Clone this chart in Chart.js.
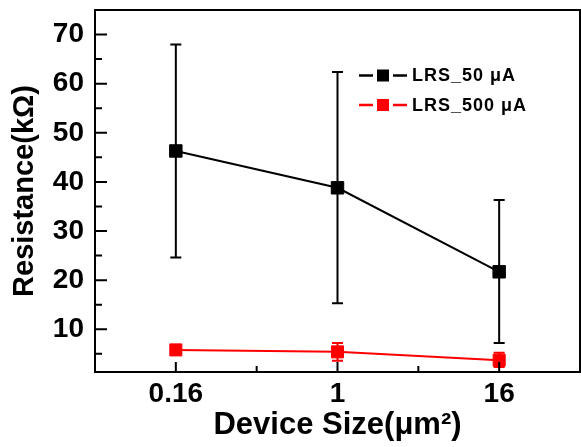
<!DOCTYPE html>
<html>
<head>
<meta charset="utf-8">
<script src="https://cdn.jsdelivr.net/npm/chart.js@4.4.0/dist/chart.umd.min.js"></script>
<style>
  html, body { margin: 0; padding: 0; background: #fff; }
</style>
</head>
<body>
<canvas id="chart" width="581" height="447"></canvas>
<script>
/* values */
var xLabels = ["0.16", "1", "16"];
var yTicks = [10, 20, 30, 40, 50, 60, 70];
var yMinor = [5, 15, 25, 35, 45, 55, 65];
var xMinor = [0.5, 1.5];

var lrs50 = [46.3, 38.8, 21.7];
var lrs50Low = [24.6, 15.3, 7.2];
var lrs50High = [68.0, 62.4, 36.3];

var lrs500 = [5.8, 5.4, 3.7];
var lrs500Low = [5.3, 3.6, 2.3];
var lrs500High = [6.4, 7.2, 5.2];

var FONT = "'Liberation Sans', Arial, sans-serif";

function toPoints(vals) {
  return vals.map(function (v, i) { return { x: i, y: v }; });
}

/* frame, inward ticks, error bars and legend */
var extras = {
  id: "extras",
  beforeDatasetsDraw: function (chart) {
    var c = chart.ctx, xs = chart.scales.x, ys = chart.scales.y;
    c.save();
    chart.data.datasets.forEach(function (ds) {
      c.strokeStyle = ds.borderColor;
      c.lineWidth = 2;
      ds.errLow.forEach(function (lo, i) {
        var px = xs.getPixelForValue(i);
        var y1 = ys.getPixelForValue(lo);
        var y2 = ys.getPixelForValue(ds.errHigh[i]);
        c.beginPath();
        c.moveTo(px, y1); c.lineTo(px, y2);
        c.moveTo(px - 5.5, y1); c.lineTo(px + 5.5, y1);
        c.moveTo(px - 5.5, y2); c.lineTo(px + 5.5, y2);
        c.stroke();
      });
    });
    c.restore();
  },
  afterDraw: function (chart) {
    var c = chart.ctx, a = chart.chartArea, xs = chart.scales.x, ys = chart.scales.y;
    c.save();
    c.strokeStyle = "#000";
    c.lineWidth = 2;
    c.strokeRect(a.left, a.top, a.right - a.left, a.bottom - a.top);
    c.beginPath();
    yTicks.forEach(function (v) {
      var py = ys.getPixelForValue(v);
      c.moveTo(a.left, py); c.lineTo(a.left + 12, py);
    });
    yMinor.forEach(function (v) {
      var py = ys.getPixelForValue(v);
      c.moveTo(a.left, py); c.lineTo(a.left + 7, py);
    });
    xLabels.forEach(function (l, i) {
      var px = xs.getPixelForValue(i);
      c.moveTo(px, a.bottom); c.lineTo(px, a.bottom - 10);
    });
    xMinor.forEach(function (v) {
      var px = xs.getPixelForValue(v);
      c.moveTo(px, a.bottom); c.lineTo(px, a.bottom - 6);
    });
    c.stroke();

    /* legend */
    var lx = 359, ly = 75.5;
    chart.data.datasets.forEach(function (ds) {
      c.strokeStyle = ds.borderColor;
      c.fillStyle = ds.borderColor;
      c.lineWidth = 2.5;
      c.beginPath();
      c.moveTo(lx, ly); c.lineTo(lx + 14, ly);
      c.moveTo(lx + 34, ly); c.lineTo(lx + 48, ly);
      c.stroke();
      c.fillRect(lx + 18, ly - 6, 12, 12);
      c.fillStyle = "#000";
      c.font = "bold 18px " + FONT;
      c.letterSpacing = "1px";
      c.textBaseline = "middle";
      c.fillText(ds.label, lx + 53, ly + 1);
      ly += 29.5;
    });
    c.restore();
  }
};

var ctx = document.getElementById("chart");
var myChart = new Chart(ctx, {
  type: "line",
  data: {
    datasets: [
      {
        label: "LRS_50 \u03bcA",
        data: toPoints(lrs50),
        errLow: lrs50Low,
        errHigh: lrs50High,
        borderColor: "#000000",
        backgroundColor: "#000000",
        borderWidth: 2,
        pointStyle: "rect",
        pointRadius: 8.8,
        pointBorderWidth: 1,
        tension: 0
      },
      {
        label: "LRS_500 \u03bcA",
        data: toPoints(lrs500),
        errLow: lrs500Low,
        errHigh: lrs500High,
        borderColor: "#ff0000",
        backgroundColor: "#ff0000",
        borderWidth: 2,
        pointStyle: "rect",
        pointRadius: 8.5,
        pointBorderWidth: 1,
        tension: 0
      }
    ]
  },
  options: {
    responsive: false,
    animation: false,
    layout: { autoPadding: false, padding: { top: 10, right: 1, left: 0, bottom: 0 } },
    plugins: { legend: { display: false }, tooltip: { enabled: false } },
    scales: {
      x: {
        type: "linear",
        min: -0.5,
        max: 2.5,
        grid: { display: false, drawTicks: false },
        border: { display: false },
        afterBuildTicks: function (s) {
          s.ticks = xLabels.map(function (l, i) { return { value: i }; });
        },
        afterFit: function (s) {
          s.height = 75;
          s.paddingLeft = 0;
          s.paddingRight = 0;
        },
        ticks: {
          callback: function (v) { return xLabels[v]; },
          color: "#000",
          font: { family: FONT, size: 28, weight: "bold" },
          padding: 5,
          maxRotation: 0
        },
        title: {
          display: true,
          text: "Device Size(\u03bcm\u00b2)",
          color: "#000",
          font: { family: FONT, size: 31, weight: "bold" },
          padding: { top: 0, bottom: 3 }
        }
      },
      y: {
        min: 1.3,
        max: 75,
        grid: { display: false, drawTicks: false },
        border: { display: false },
        afterBuildTicks: function (s) {
          s.ticks = yTicks.map(function (v) { return { value: v }; });
        },
        afterFit: function (s) {
          s.width = 95;
          s.paddingTop = 0;
          s.paddingBottom = 0;
        },
        ticks: {
          color: "#000",
          font: { family: FONT, size: 28, weight: "bold" },
          padding: 11
        },
        title: {
          display: true,
          text: "Resistance(k\u03a9)",
          color: "#000",
          font: { family: FONT, size: 29, weight: "bold" },
          padding: { top: 8, bottom: 0 }
        }
      }
    }
  },
  plugins: [extras]
});
</script>
</body>
</html>
